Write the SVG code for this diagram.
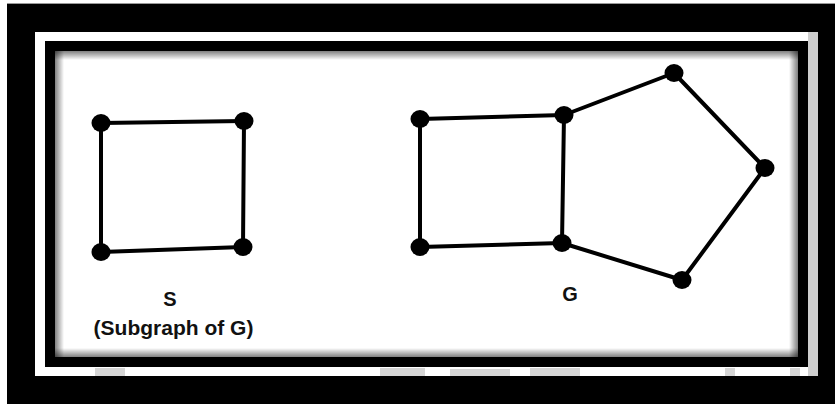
<svg xmlns="http://www.w3.org/2000/svg" width="835" height="404" viewBox="0 0 835 404">
<style>
.edge{stroke:#000;stroke-width:4;stroke-linecap:round;fill:none}
.node{fill:#000}
.lbl{font-family:"Liberation Sans",Arial,sans-serif;font-weight:bold;fill:#111;text-anchor:middle}
.wm{fill:#d6d6d6}
</style>
<defs>
<linearGradient id="shT" x1="0" y1="0" x2="0" y2="1"><stop offset="0" stop-color="#000" stop-opacity="0.5"/><stop offset="1" stop-color="#000" stop-opacity="0"/></linearGradient>
<linearGradient id="shB" x1="0" y1="1" x2="0" y2="0"><stop offset="0" stop-color="#000" stop-opacity="0.5"/><stop offset="1" stop-color="#000" stop-opacity="0"/></linearGradient>
<linearGradient id="shL" x1="0" y1="0" x2="1" y2="0"><stop offset="0" stop-color="#000" stop-opacity="0.5"/><stop offset="1" stop-color="#000" stop-opacity="0"/></linearGradient>
<linearGradient id="shR" x1="1" y1="0" x2="0" y2="0"><stop offset="0" stop-color="#000" stop-opacity="0.5"/><stop offset="1" stop-color="#000" stop-opacity="0"/></linearGradient>
</defs>
<g id="frame">
<rect x="0" y="0" width="835" height="404" fill="#fff"/>
<rect x="7" y="3" width="828" height="401" fill="#000"/>
<line x1="7" y1="3.5" x2="835" y2="3.5" stroke="#999" stroke-width="1"/>
<rect x="35" y="32" width="783" height="344" fill="#fff"/>
<rect x="808" y="32" width="10" height="344" fill="#cfcfcf"/>
<rect class="wm" x="95" y="368" width="30" height="8"/>
<rect class="wm" x="380" y="368" width="45" height="8"/>
<rect class="wm" x="450" y="369" width="60" height="7"/>
<rect class="wm" x="530" y="368" width="50" height="8"/>
<rect class="wm" x="725" y="368" width="10" height="8"/>
<rect class="wm" x="790" y="368" width="10" height="8"/>
<rect x="45" y="41" width="763" height="326" fill="#000"/>
<rect x="55" y="51" width="743" height="306" fill="#fff"/>
<rect x="55" y="51" width="743" height="9" fill="url(#shT)"/>
<rect x="55" y="348" width="743" height="9" fill="url(#shB)"/>
<rect x="55" y="51" width="9" height="306" fill="url(#shL)"/>
<rect x="789" y="51" width="9" height="306" fill="url(#shR)"/>
</g>
<g id="connectors">
<line class="edge" x1="101" y1="123" x2="244" y2="121"/>
<line class="edge" x1="244" y1="121" x2="243" y2="247"/>
<line class="edge" x1="243" y1="247" x2="101" y2="252"/>
<line class="edge" x1="101" y1="252" x2="101" y2="123"/>
<line class="edge" x1="420" y1="119" x2="564" y2="115"/>
<line class="edge" x1="564" y1="115" x2="562" y2="243"/>
<line class="edge" x1="562" y1="243" x2="420" y2="247"/>
<line class="edge" x1="420" y1="247" x2="420" y2="119"/>
<line class="edge" x1="564" y1="115" x2="674" y2="73"/>
<line class="edge" x1="674" y1="73" x2="765" y2="168"/>
<line class="edge" x1="765" y1="168" x2="682" y2="280"/>
<line class="edge" x1="682" y1="280" x2="562" y2="243"/>
</g>
<g id="s1"><ellipse class="node" cx="101" cy="123" rx="9.5" ry="9"/></g>
<g id="s2"><ellipse class="node" cx="244" cy="121" rx="9.5" ry="9"/></g>
<g id="s3"><ellipse class="node" cx="243" cy="247" rx="9.5" ry="9"/></g>
<g id="s4"><ellipse class="node" cx="101" cy="252" rx="9.5" ry="9"/></g>
<g id="g1"><ellipse class="node" cx="420" cy="119" rx="9.5" ry="9"/></g>
<g id="g2"><ellipse class="node" cx="564" cy="115" rx="9.5" ry="9"/></g>
<g id="g3"><ellipse class="node" cx="674" cy="73" rx="9.5" ry="9"/></g>
<g id="g4"><ellipse class="node" cx="765" cy="168" rx="9.5" ry="9"/></g>
<g id="g5"><ellipse class="node" cx="682" cy="280" rx="9.5" ry="9"/></g>
<g id="g6"><ellipse class="node" cx="562" cy="243" rx="9.5" ry="9"/></g>
<g id="g7"><ellipse class="node" cx="420" cy="247" rx="9.5" ry="9"/></g>
<g id="labels">
<text class="lbl" x="170" y="306" font-size="20">S</text>
<text class="lbl" x="173.5" y="335" font-size="21">(Subgraph of G)</text>
<text class="lbl" x="570" y="301" font-size="20">G</text>
</g>
</svg>
